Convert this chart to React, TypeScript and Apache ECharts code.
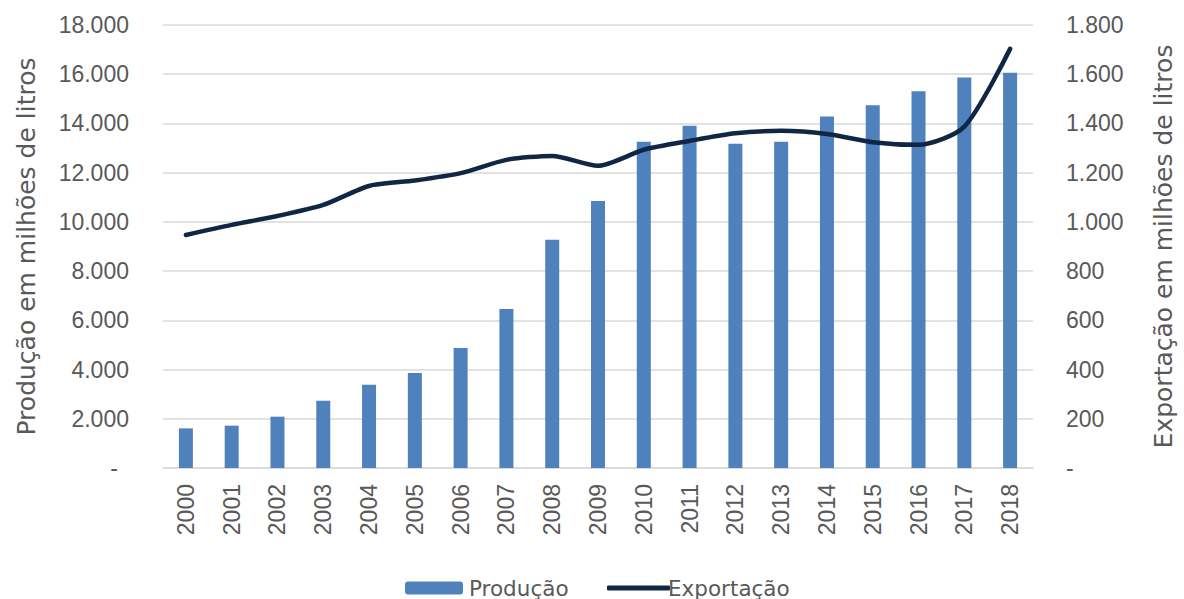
import React, { useEffect, useRef } from "react";
import * as echarts from "echarts";

const years = ["2000","2001","2002","2003","2004","2005","2006","2007","2008","2009","2010","2011","2012","2013","2014","2015","2016","2017","2018"];
const producao = [1610,1720,2085,2735,3385,3860,4880,6460,9270,10850,13260,13910,13170,13260,14280,14740,15310,15870,16060];
const exportacao = [947,988,1024,1069,1146,1168,1198,1252,1268,1228,1293,1329,1360,1370,1357,1324,1313,1387,1703];

const TXT = "#595959";
const FONT = "Liberation Sans";
const FONT2 = "DejaVu Sans";
const FS = 23;

function fmt(v: number): string {
  if (v === 0) return "-";
  return String(Math.round(v)).replace(/\B(?=(\d{3})+(?!\d))/g, ".");
}

export default function App() {
  const ref = useRef<HTMLDivElement>(null);
  useEffect(() => {
    if (!ref.current) return;
    const chart = echarts.init(ref.current, null, { renderer: "svg" });
    chart.setOption({
      animation: false,
      textStyle: { fontFamily: FONT, color: TXT },
      grid: { left: 163, right: 150, top: 25, bottom: 131, containLabel: false },
      legend: [
        {
          data: ["Produção"],
          left: 400,
          top: 572,
          itemWidth: 58,
          itemHeight: 13,
          itemGap: 0,
          textStyle: { fontFamily: FONT2, fontSize: 21.5, color: TXT, padding: [0, 0, 0, 1] },
        },
        {
          data: [{ name: "Exportação", icon: "roundRect" }],
          left: 602,
          top: 572,
          itemWidth: 63,
          itemHeight: 5,
          textStyle: { fontFamily: FONT2, fontSize: 21.5, color: TXT, padding: [0, 0, 0, -7] },
        },
      ],
      xAxis: {
        type: "category",
        data: years,
        axisLine: { show: true, lineStyle: { color: "#d9d9d9", width: 1.5 } },
        axisTick: { show: false },
        axisLabel: { rotate: 90, margin: 16, fontFamily: FONT, fontSize: FS, color: TXT },
      },
      yAxis: [
        {
          type: "value",
          min: 0,
          max: 18000,
          interval: 2000,
          name: "Produção em milhões de litros",
          nameLocation: "middle",
          nameGap: 124,
          nameTextStyle: { fontFamily: FONT2, fontSize: 25, color: TXT },
          axisLine: { show: false },
          axisTick: { show: false },
          axisLabel: {
            margin: 34,
            fontFamily: FONT,
            fontSize: FS,
            color: TXT,
            formatter: (v: number) => (v === 0 ? "{d|-}" : fmt(v)),
            rich: { d: { fontFamily: FONT, fontSize: FS, color: TXT, padding: [0, 11, 0, 0] } },
          },
          splitLine: { lineStyle: { color: "#d9d9d9", width: 1.5 } },
        },
        {
          type: "value",
          min: 0,
          max: 1800,
          interval: 200,
          name: "Exportação em milhões de litros",
          nameLocation: "middle",
          nameGap: 118,
          nameRotate: 90,
          nameTextStyle: { fontFamily: FONT2, fontSize: 25, color: TXT },
          axisLine: { show: false },
          axisTick: { show: false },
          axisLabel: { margin: 33, fontFamily: FONT, fontSize: FS, color: TXT, formatter: (v: number) => fmt(v) },
          splitLine: { show: false },
        },
      ],
      series: [
        {
          name: "Produção",
          type: "bar",
          data: producao,
          barWidth: 14,
          itemStyle: { color: "#4f81bd" },
        },
        {
          name: "Exportação",
          type: "line",
          yAxisIndex: 1,
          data: exportacao,
          smooth: 0.25,
          symbol: "none",
          lineStyle: { color: "#0f2744", width: 4.5, cap: "round" },
          itemStyle: { color: "#0f2744" },
        },
      ],
    });
    return () => chart.dispose();
  }, []);
  return (
    <div
      ref={ref}
      style={{ position: "fixed", left: 0, top: 0, width: 1184, height: 599, background: "#fff" }}
    />
  );
}
